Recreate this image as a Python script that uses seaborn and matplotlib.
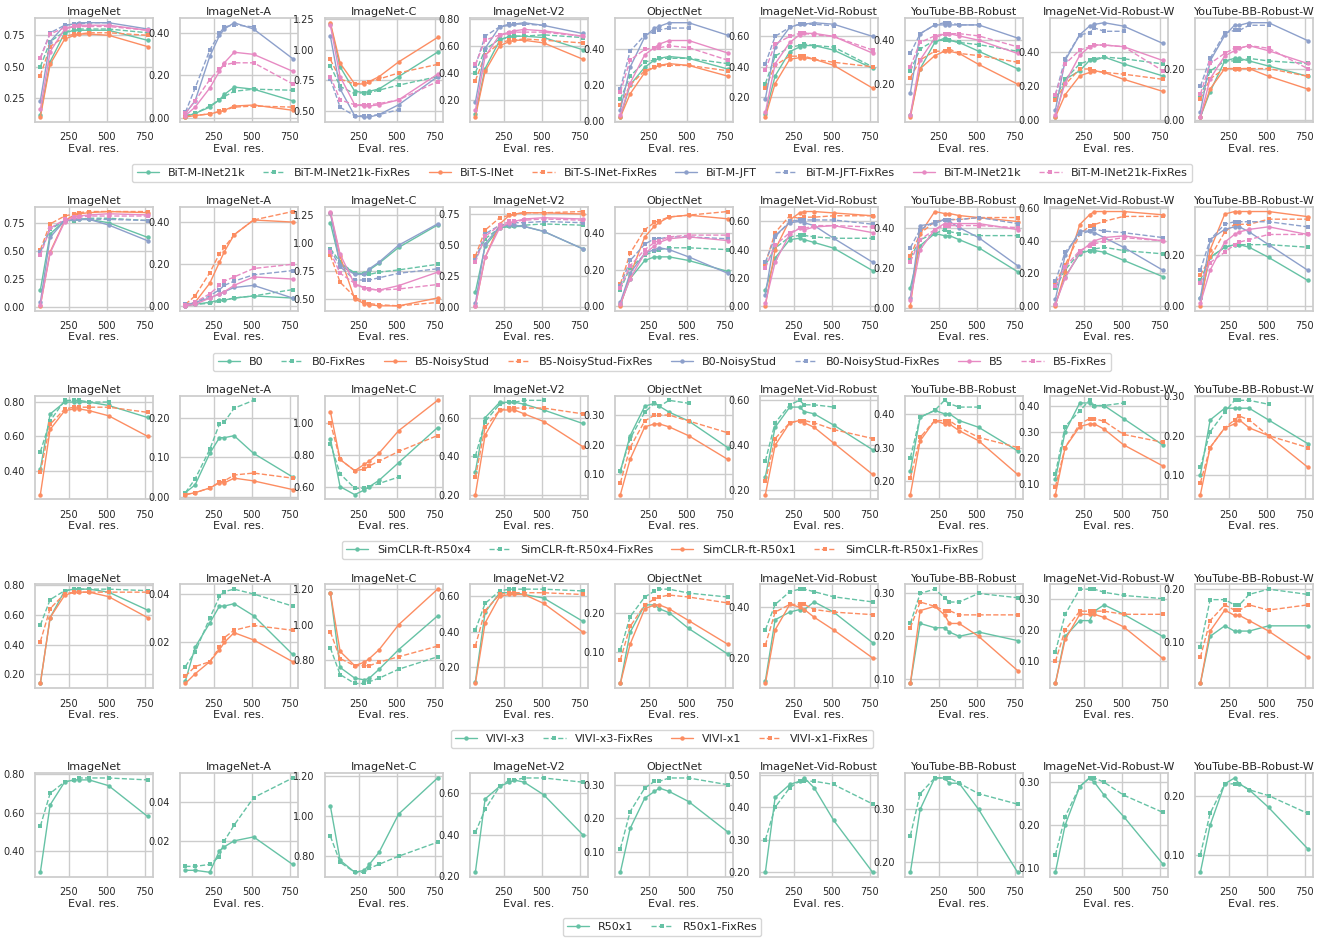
import matplotlib
matplotlib.use("Agg")
import matplotlib.pyplot as plt
from matplotlib.ticker import FormatStrFormatter, MaxNLocator
import seaborn as sns

# evaluation resolutions (x axis)
res = [64, 128, 224, 288, 320, 384, 512, 768]
datasets = ["ImageNet", "ImageNet-A", "ImageNet-C", "ImageNet-V2", "ObjectNet",
            "ImageNet-Vid-Robust", "YouTube-BB-Robust", "ImageNet-Vid-Robust-W",
            "YouTube-BB-Robust-W"]

# ---- row 1: BiT ----
bit_models = ["BiT-M-INet21k", "BiT-M-INet21k-FixRes", "BiT-S-INet", "BiT-S-INet-FixRes",
              "BiT-M-JFT", "BiT-M-JFT-FixRes", "BiT-M-INet21k", "BiT-M-INet21k-FixRes"]
bit_scores = {
    "ImageNet": [
        [0.12, 0.54, 0.77, 0.79, 0.79, 0.79, 0.79, 0.71],
        [0.50, 0.70, 0.78, 0.79, 0.80, 0.80, 0.80, 0.77],
        [0.10, 0.52, 0.72, 0.75, 0.76, 0.76, 0.75, 0.66],
        [0.43, 0.66, 0.74, 0.76, 0.76, 0.77, 0.77, 0.75],
        [0.23, 0.70, 0.83, 0.84, 0.85, 0.85, 0.85, 0.80],
        [0.57, 0.77, 0.83, 0.84, 0.84, 0.85, 0.85],
        [0.16, 0.62, 0.80, 0.82, 0.83, 0.83, 0.83, 0.79],
        [0.57, 0.76, 0.81, 0.82, 0.82, 0.82, 0.82, 0.79]],
    "ImageNet-A": [
        [0.005, 0.02, 0.05, 0.085, 0.11, 0.145, 0.135, 0.08],
        [0.01, 0.02, 0.055, 0.085, 0.10, 0.125, 0.135, 0.13],
        [0.003, 0.01, 0.018, 0.028, 0.035, 0.055, 0.06, 0.035],
        [0.005, 0.01, 0.018, 0.03, 0.035, 0.05, 0.055, 0.05],
        [0.02, 0.08, 0.29, 0.39, 0.42, 0.45, 0.42, 0.28],
        [0.025, 0.14, 0.32, 0.40, 0.43, 0.44, 0.43],
        [0.01, 0.05, 0.14, 0.22, 0.26, 0.31, 0.30, 0.22],
        [0.02, 0.08, 0.18, 0.23, 0.25, 0.26, 0.26, 0.16]],
    "ImageNet-C": [
        [1.21, 0.86, 0.66, 0.65, 0.66, 0.68, 0.78, 0.98],
        [0.87, 0.70, 0.64, 0.65, 0.65, 0.67, 0.71, 0.78],
        [1.22, 0.89, 0.72, 0.72, 0.74, 0.78, 0.90, 1.10],
        [0.92, 0.76, 0.72, 0.73, 0.74, 0.76, 0.81, 0.88],
        [1.11, 0.68, 0.46, 0.45, 0.45, 0.47, 0.55, 0.78],
        [0.76, 0.53, 0.46, 0.46, 0.46, 0.47, 0.51],
        [1.20, 0.78, 0.55, 0.54, 0.54, 0.55, 0.59, 0.80],
        [0.78, 0.59, 0.55, 0.55, 0.55, 0.56, 0.59, 0.74]],
    "ImageNet-V2": [
        [0.09, 0.43, 0.64, 0.67, 0.67, 0.67, 0.66, 0.57],
        [0.40, 0.57, 0.65, 0.66, 0.67, 0.67, 0.68, 0.66],
        [0.07, 0.41, 0.60, 0.63, 0.64, 0.64, 0.62, 0.50],
        [0.34, 0.53, 0.62, 0.64, 0.64, 0.65, 0.64, 0.62],
        [0.18, 0.58, 0.74, 0.75, 0.76, 0.77, 0.75, 0.69],
        [0.45, 0.67, 0.74, 0.76, 0.76, 0.76, 0.75],
        [0.12, 0.52, 0.68, 0.70, 0.71, 0.72, 0.71, 0.67],
        [0.46, 0.64, 0.68, 0.69, 0.70, 0.70, 0.70, 0.67]],
    "ObjectNet": [
        [0.02, 0.20, 0.30, 0.34, 0.35, 0.36, 0.35, 0.29],
        [0.12, 0.25, 0.33, 0.34, 0.35, 0.35, 0.35, 0.32],
        [0.02, 0.15, 0.27, 0.30, 0.31, 0.32, 0.31, 0.25],
        [0.09, 0.20, 0.28, 0.30, 0.31, 0.31, 0.31, 0.28],
        [0.06, 0.30, 0.47, 0.52, 0.53, 0.55, 0.55, 0.48],
        [0.18, 0.39, 0.48, 0.50, 0.51, 0.52, 0.52],
        [0.03, 0.21, 0.37, 0.41, 0.43, 0.45, 0.45, 0.38],
        [0.16, 0.34, 0.40, 0.41, 0.41, 0.42, 0.41, 0.34]],
    "ImageNet-Vid-Robust": [
        [0.09, 0.34, 0.50, 0.53, 0.54, 0.54, 0.51, 0.39],
        [0.29, 0.47, 0.53, 0.54, 0.55, 0.54, 0.53, 0.40],
        [0.07, 0.29, 0.45, 0.46, 0.46, 0.45, 0.41, 0.26],
        [0.26, 0.41, 0.47, 0.47, 0.47, 0.45, 0.43, 0.40],
        [0.19, 0.53, 0.66, 0.68, 0.68, 0.69, 0.68, 0.60],
        [0.42, 0.60, 0.66, 0.68, 0.68, 0.68, 0.67],
        [0.10, 0.42, 0.56, 0.61, 0.62, 0.62, 0.60, 0.49],
        [0.38, 0.55, 0.60, 0.62, 0.62, 0.61, 0.60, 0.51]],
    "YouTube-BB-Robust": [
        [0.06, 0.27, 0.39, 0.41, 0.40, 0.39, 0.35, 0.27],
        [0.26, 0.36, 0.40, 0.40, 0.40, 0.39, 0.38, 0.35],
        [0.05, 0.27, 0.33, 0.35, 0.35, 0.34, 0.29, 0.20],
        [0.23, 0.31, 0.35, 0.35, 0.36, 0.34, 0.33, 0.30],
        [0.16, 0.43, 0.47, 0.47, 0.47, 0.47, 0.47, 0.41],
        [0.34, 0.43, 0.47, 0.48, 0.48, 0.47, 0.47],
        [0.06, 0.31, 0.41, 0.43, 0.43, 0.42, 0.40, 0.34],
        [0.28, 0.39, 0.42, 0.43, 0.43, 0.43, 0.42, 0.37]],
    "ImageNet-Vid-Robust-W": [
        [0.02, 0.24, 0.29, 0.35, 0.35, 0.37, 0.33, 0.26],
        [0.13, 0.24, 0.33, 0.35, 0.36, 0.37, 0.36, 0.33],
        [0.02, 0.15, 0.26, 0.28, 0.29, 0.28, 0.24, 0.17],
        [0.12, 0.21, 0.30, 0.30, 0.29, 0.28, 0.27, 0.24],
        [0.06, 0.35, 0.50, 0.55, 0.56, 0.57, 0.55, 0.45],
        [0.15, 0.36, 0.50, 0.51, 0.54, 0.52, 0.52],
        [0.03, 0.22, 0.38, 0.43, 0.44, 0.44, 0.43, 0.35],
        [0.15, 0.33, 0.41, 0.43, 0.44, 0.44, 0.43, 0.29]],
    "YouTube-BB-Robust-W": [
        [0.01, 0.11, 0.23, 0.24, 0.24, 0.23, 0.21, 0.17],
        [0.09, 0.19, 0.23, 0.23, 0.23, 0.24, 0.23, 0.22],
        [0.01, 0.12, 0.20, 0.20, 0.20, 0.20, 0.17, 0.12],
        [0.08, 0.16, 0.20, 0.20, 0.20, 0.20, 0.20, 0.17],
        [0.03, 0.23, 0.33, 0.37, 0.37, 0.38, 0.38, 0.31],
        [0.13, 0.24, 0.34, 0.35, 0.35, 0.37, 0.37],
        [0.01, 0.16, 0.25, 0.27, 0.28, 0.29, 0.27, 0.22],
        [0.10, 0.22, 0.26, 0.28, 0.28, 0.29, 0.28, 0.20]],
}

# ---- row 2: EfficientNet ----
eff_models = ["B0", "B0-FixRes", "B5-NoisyStud", "B5-NoisyStud-FixRes",
              "B0-NoisyStud", "B0-NoisyStud-FixRes", "B5", "B5-FixRes"]
eff_scores = {
    "ImageNet": [
        [0.15, 0.65, 0.77, 0.78, 0.78, 0.78, 0.75, 0.62],
        [0.49, 0.69, 0.77, 0.77, 0.78, 0.79, 0.79, 0.77],
        [0.01, 0.49, 0.77, 0.82, 0.83, 0.84, 0.85, 0.84],
        [0.51, 0.74, 0.81, 0.83, 0.84, 0.85, 0.85, 0.85],
        [0.04, 0.62, 0.77, 0.78, 0.78, 0.78, 0.73, 0.59],
        [0.49, 0.70, 0.77, 0.78, 0.78, 0.78, 0.78, 0.77],
        [0.02, 0.48, 0.76, 0.80, 0.81, 0.82, 0.83, 0.82],
        [0.46, 0.70, 0.78, 0.80, 0.80, 0.81, 0.81, 0.81]],
    "ImageNet-A": [
        [0.003, 0.01, 0.02, 0.03, 0.03, 0.04, 0.05, 0.04],
        [0.005, 0.01, 0.015, 0.025, 0.03, 0.04, 0.05, 0.08],
        [0.003, 0.02, 0.11, 0.21, 0.26, 0.34, 0.41, 0.40],
        [0.01, 0.05, 0.16, 0.25, 0.28, 0.34, 0.41, 0.45],
        [0.003, 0.02, 0.04, 0.06, 0.07, 0.09, 0.10, 0.04],
        [0.01, 0.02, 0.05, 0.08, 0.10, 0.12, 0.15, 0.17],
        [0.003, 0.01, 0.04, 0.06, 0.07, 0.10, 0.14, 0.13],
        [0.005, 0.02, 0.06, 0.10, 0.12, 0.14, 0.18, 0.20]],
    "ImageNet-C": [
        [1.18, 0.82, 0.73, 0.73, 0.76, 0.82, 0.96, 1.16],
        [0.95, 0.83, 0.73, 0.72, 0.72, 0.74, 0.76, 0.81],
        [1.27, 0.88, 0.50, 0.46, 0.45, 0.44, 0.44, 0.51],
        [0.89, 0.65, 0.52, 0.47, 0.46, 0.45, 0.44, 0.47],
        [1.27, 0.80, 0.72, 0.72, 0.77, 0.83, 0.98, 1.17],
        [0.94, 0.79, 0.67, 0.67, 0.67, 0.69, 0.73, 0.77],
        [1.28, 0.90, 0.63, 0.60, 0.59, 0.58, 0.62, 0.74],
        [0.92, 0.73, 0.64, 0.60, 0.59, 0.58, 0.59, 0.63]],
    "ImageNet-V2": [
        [0.12, 0.49, 0.64, 0.65, 0.65, 0.65, 0.61, 0.47],
        [0.39, 0.55, 0.64, 0.65, 0.65, 0.66, 0.67, 0.66],
        [0.01, 0.40, 0.67, 0.74, 0.75, 0.76, 0.76, 0.75],
        [0.41, 0.62, 0.72, 0.74, 0.75, 0.76, 0.76, 0.77],
        [0.03, 0.51, 0.65, 0.66, 0.66, 0.65, 0.61, 0.47],
        [0.38, 0.59, 0.66, 0.67, 0.68, 0.68, 0.69, 0.68],
        [0.01, 0.40, 0.64, 0.68, 0.69, 0.71, 0.72, 0.71],
        [0.36, 0.57, 0.66, 0.69, 0.69, 0.70, 0.71, 0.70]],
    "ObjectNet": [
        [0.01, 0.15, 0.25, 0.27, 0.27, 0.27, 0.25, 0.19],
        [0.09, 0.21, 0.28, 0.30, 0.31, 0.32, 0.32, 0.31],
        [0.00, 0.17, 0.38, 0.44, 0.46, 0.49, 0.50, 0.48],
        [0.12, 0.29, 0.42, 0.46, 0.47, 0.49, 0.50, 0.52],
        [0.02, 0.18, 0.29, 0.31, 0.32, 0.31, 0.27, 0.18],
        [0.11, 0.25, 0.34, 0.37, 0.37, 0.38, 0.38, 0.37],
        [0.01, 0.15, 0.29, 0.33, 0.35, 0.37, 0.38, 0.36],
        [0.10, 0.22, 0.31, 0.35, 0.36, 0.38, 0.39, 0.39]],
    "ImageNet-Vid-Robust": [
        [0.11, 0.34, 0.47, 0.48, 0.47, 0.45, 0.41, 0.25],
        [0.29, 0.41, 0.49, 0.50, 0.50, 0.49, 0.48, 0.48],
        [0.00, 0.40, 0.61, 0.66, 0.67, 0.67, 0.66, 0.64],
        [0.30, 0.52, 0.64, 0.62, 0.63, 0.63, 0.64, 0.64],
        [0.08, 0.50, 0.59, 0.60, 0.59, 0.57, 0.48, 0.31],
        [0.31, 0.49, 0.60, 0.61, 0.61, 0.61, 0.61, 0.58],
        [0.02, 0.31, 0.51, 0.55, 0.54, 0.56, 0.57, 0.52],
        [0.27, 0.43, 0.52, 0.55, 0.55, 0.57, 0.57, 0.56]],
    "YouTube-BB-Robust": [
        [0.10, 0.31, 0.37, 0.36, 0.36, 0.34, 0.30, 0.18],
        [0.25, 0.34, 0.37, 0.39, 0.38, 0.37, 0.36, 0.36],
        [0.01, 0.37, 0.48, 0.47, 0.47, 0.46, 0.45, 0.43],
        [0.26, 0.37, 0.43, 0.44, 0.44, 0.44, 0.45, 0.45],
        [0.05, 0.41, 0.42, 0.44, 0.43, 0.40, 0.35, 0.21],
        [0.30, 0.39, 0.43, 0.44, 0.44, 0.44, 0.45, 0.42],
        [0.04, 0.29, 0.39, 0.42, 0.42, 0.42, 0.42, 0.39],
        [0.23, 0.34, 0.39, 0.41, 0.41, 0.41, 0.41, 0.40]],
    "ImageNet-Vid-Robust-W": [
        [0.01, 0.18, 0.32, 0.34, 0.34, 0.33, 0.28, 0.18],
        [0.11, 0.22, 0.33, 0.34, 0.35, 0.36, 0.34, 0.32],
        [0.00, 0.21, 0.50, 0.56, 0.58, 0.58, 0.58, 0.56],
        [0.14, 0.25, 0.44, 0.49, 0.50, 0.52, 0.55, 0.55],
        [0.04, 0.31, 0.46, 0.46, 0.45, 0.42, 0.36, 0.22],
        [0.15, 0.33, 0.44, 0.46, 0.47, 0.46, 0.45, 0.42],
        [0.01, 0.17, 0.33, 0.38, 0.40, 0.42, 0.43, 0.40],
        [0.12, 0.24, 0.34, 0.37, 0.38, 0.40, 0.42, 0.40]],
    "YouTube-BB-Robust-W": [
        [0.03, 0.19, 0.23, 0.24, 0.24, 0.23, 0.19, 0.10],
        [0.10, 0.19, 0.23, 0.24, 0.24, 0.24, 0.24, 0.23],
        [0.00, 0.22, 0.36, 0.37, 0.37, 0.37, 0.37, 0.35],
        [0.12, 0.19, 0.29, 0.32, 0.32, 0.32, 0.34, 0.34],
        [0.03, 0.26, 0.30, 0.31, 0.31, 0.29, 0.24, 0.14],
        [0.14, 0.26, 0.32, 0.33, 0.33, 0.33, 0.33, 0.31],
        [0.01, 0.14, 0.25, 0.28, 0.29, 0.30, 0.31, 0.28],
        [0.09, 0.17, 0.21, 0.24, 0.25, 0.26, 0.28, 0.28]],
}

# ---- row 3: SimCLR ----
simclr_models = ["SimCLR-ft-R50x4", "SimCLR-ft-R50x4-FixRes",
                 "SimCLR-ft-R50x1", "SimCLR-ft-R50x1-FixRes"]
simclr_scores = {
    "ImageNet": [
        [0.41, 0.73, 0.80, 0.80, 0.80, 0.80, 0.78, 0.71],
        [0.51, 0.69, 0.81, 0.81, 0.81, 0.80, 0.80],
        [0.26, 0.64, 0.75, 0.76, 0.76, 0.75, 0.72, 0.60],
        [0.39, 0.67, 0.76, 0.77, 0.77, 0.77, 0.77, 0.74]],
    "ImageNet-A": [
        [0.01, 0.03, 0.11, 0.15, 0.15, 0.155, 0.11, 0.05],
        [0.01, 0.045, 0.12, 0.185, 0.19, 0.225, 0.245],
        [0.005, 0.01, 0.022, 0.035, 0.035, 0.047, 0.04, 0.018],
        [0.005, 0.01, 0.022, 0.037, 0.04, 0.055, 0.06, 0.047]],
    "ImageNet-C": [
        [0.90, 0.60, 0.55, 0.58, 0.60, 0.64, 0.75, 0.97],
        [0.87, 0.68, 0.59, 0.59, 0.60, 0.62, 0.66],
        [1.07, 0.77, 0.70, 0.74, 0.76, 0.81, 0.95, 1.14],
        [1.00, 0.77, 0.70, 0.71, 0.73, 0.76, 0.82, 0.92]],
    "ImageNet-V2": [
        [0.32, 0.60, 0.68, 0.68, 0.68, 0.67, 0.64, 0.57],
        [0.40, 0.58, 0.67, 0.68, 0.68, 0.69, 0.69],
        [0.20, 0.51, 0.64, 0.64, 0.64, 0.62, 0.58, 0.45],
        [0.29, 0.55, 0.64, 0.65, 0.65, 0.65, 0.65, 0.62]],
    "ObjectNet": [
        [0.11, 0.23, 0.33, 0.34, 0.33, 0.31, 0.28, 0.19],
        [0.11, 0.22, 0.31, 0.34, 0.33, 0.35, 0.34],
        [0.03, 0.15, 0.26, 0.27, 0.27, 0.26, 0.23, 0.15],
        [0.07, 0.19, 0.28, 0.30, 0.30, 0.30, 0.28, 0.24]],
    "ImageNet-Vid-Robust": [
        [0.26, 0.48, 0.57, 0.57, 0.55, 0.54, 0.49, 0.38],
        [0.33, 0.50, 0.58, 0.60, 0.58, 0.58, 0.57],
        [0.18, 0.40, 0.50, 0.51, 0.50, 0.48, 0.41, 0.27],
        [0.24, 0.43, 0.50, 0.51, 0.51, 0.50, 0.47, 0.43]],
    "YouTube-BB-Robust": [
        [0.23, 0.39, 0.41, 0.40, 0.40, 0.38, 0.36, 0.29],
        [0.27, 0.39, 0.41, 0.44, 0.43, 0.42, 0.42],
        [0.16, 0.32, 0.38, 0.37, 0.37, 0.35, 0.32, 0.22],
        [0.21, 0.33, 0.38, 0.38, 0.38, 0.36, 0.33, 0.30]],
    "ImageNet-Vid-Robust-W": [
        [0.12, 0.30, 0.41, 0.41, 0.40, 0.40, 0.35, 0.25],
        [0.14, 0.32, 0.38, 0.42, 0.40, 0.40, 0.41],
        [0.06, 0.24, 0.32, 0.33, 0.33, 0.31, 0.25, 0.17],
        [0.09, 0.24, 0.33, 0.35, 0.35, 0.34, 0.29, 0.26]],
    "YouTube-BB-Robust-W": [
        [0.10, 0.24, 0.27, 0.27, 0.27, 0.27, 0.24, 0.18],
        [0.12, 0.21, 0.26, 0.29, 0.29, 0.29, 0.28],
        [0.05, 0.17, 0.22, 0.23, 0.24, 0.22, 0.20, 0.12],
        [0.08, 0.17, 0.22, 0.24, 0.25, 0.24, 0.20, 0.17]],
}

# ---- row 4: VIVI ----
vivi_models = ["VIVI-x3", "VIVI-x3-FixRes", "VIVI-x1", "VIVI-x1-FixRes"]
vivi_scores = {
    "ImageNet": [
        [0.14, 0.58, 0.76, 0.77, 0.77, 0.77, 0.75, 0.63],
        [0.53, 0.70, 0.76, 0.77, 0.77, 0.77, 0.77, 0.76],
        [0.14, 0.58, 0.73, 0.75, 0.75, 0.75, 0.72, 0.58],
        [0.42, 0.64, 0.74, 0.75, 0.75, 0.75, 0.75, 0.75]],
    "ImageNet-A": [
        [0.004, 0.018, 0.028, 0.035, 0.035, 0.036, 0.031, 0.015],
        [0.010, 0.016, 0.030, 0.039, 0.041, 0.042, 0.040, 0.035],
        [0.003, 0.007, 0.012, 0.017, 0.020, 0.024, 0.021, 0.012],
        [0.006, 0.010, 0.012, 0.018, 0.022, 0.025, 0.027, 0.025]],
    "ImageNet-C": [
        [1.18, 0.76, 0.70, 0.69, 0.70, 0.75, 0.86, 1.05],
        [0.87, 0.72, 0.67, 0.67, 0.68, 0.70, 0.75, 0.82],
        [1.18, 0.85, 0.77, 0.79, 0.81, 0.86, 1.00, 1.20],
        [0.96, 0.81, 0.77, 0.77, 0.77, 0.79, 0.82, 0.88]],
    "ImageNet-V2": [
        [0.12, 0.51, 0.62, 0.62, 0.62, 0.61, 0.59, 0.46],
        [0.41, 0.56, 0.63, 0.64, 0.64, 0.64, 0.64, 0.63],
        [0.11, 0.45, 0.60, 0.61, 0.61, 0.61, 0.56, 0.40],
        [0.32, 0.52, 0.61, 0.62, 0.62, 0.62, 0.62, 0.61]],
    "ObjectNet": [
        [0.02, 0.15, 0.22, 0.22, 0.21, 0.20, 0.16, 0.095],
        [0.105, 0.19, 0.24, 0.255, 0.26, 0.26, 0.25, 0.24],
        [0.02, 0.12, 0.21, 0.22, 0.22, 0.21, 0.18, 0.12],
        [0.08, 0.165, 0.22, 0.235, 0.24, 0.245, 0.24, 0.225]],
    "ImageNet-Vid-Robust": [
        [0.11, 0.35, 0.38, 0.39, 0.39, 0.42, 0.38, 0.26],
        [0.31, 0.41, 0.46, 0.47, 0.47, 0.46, 0.44, 0.42],
        [0.10, 0.31, 0.41, 0.40, 0.39, 0.36, 0.31, 0.20],
        [0.25, 0.38, 0.41, 0.41, 0.41, 0.39, 0.38, 0.37]],
    "YouTube-BB-Robust": [
        [0.09, 0.23, 0.22, 0.22, 0.21, 0.20, 0.21, 0.19],
        [0.23, 0.30, 0.31, 0.29, 0.28, 0.28, 0.30, 0.29],
        [0.09, 0.26, 0.27, 0.25, 0.23, 0.23, 0.20, 0.12],
        [0.22, 0.28, 0.27, 0.26, 0.26, 0.25, 0.25, 0.25]],
    "ImageNet-Vid-Robust-W": [
        [0.03, 0.18, 0.23, 0.23, 0.26, 0.28, 0.25, 0.18],
        [0.13, 0.25, 0.33, 0.33, 0.33, 0.32, 0.31, 0.30],
        [0.03, 0.17, 0.25, 0.25, 0.25, 0.24, 0.21, 0.11],
        [0.10, 0.20, 0.26, 0.26, 0.26, 0.26, 0.25, 0.25]],
    "YouTube-BB-Robust-W": [
        [0.02, 0.11, 0.13, 0.12, 0.12, 0.12, 0.13, 0.13],
        [0.09, 0.18, 0.18, 0.17, 0.17, 0.19, 0.20, 0.19],
        [0.02, 0.12, 0.16, 0.15, 0.15, 0.14, 0.12, 0.07],
        [0.07, 0.14, 0.17, 0.16, 0.16, 0.17, 0.16, 0.17]],
}

# ---- row 5: R50x1 ----
r50_models = ["R50x1", "R50x1-FixRes"]
r50_scores = {
    "ImageNet": [[0.29, 0.64, 0.76, 0.77, 0.77, 0.77, 0.74, 0.58],
                 [0.53, 0.70, 0.76, 0.77, 0.78, 0.78, 0.78, 0.77]],
    "ImageNet-A": [[0.005, 0.005, 0.004, 0.015, 0.017, 0.020, 0.022, 0.008],
                   [0.007, 0.007, 0.008, 0.012, 0.020, 0.028, 0.042, 0.052]],
    "ImageNet-C": [[1.05, 0.78, 0.72, 0.73, 0.76, 0.82, 1.01, 1.19],
                   [0.90, 0.77, 0.72, 0.72, 0.74, 0.76, 0.80, 0.87]],
    "ImageNet-V2": [[0.22, 0.57, 0.63, 0.65, 0.66, 0.65, 0.59, 0.40],
                    [0.41, 0.52, 0.63, 0.66, 0.66, 0.67, 0.67, 0.65]],
    "ObjectNet": [[0.04, 0.17, 0.26, 0.28, 0.29, 0.28, 0.25, 0.16],
                  [0.11, 0.22, 0.29, 0.31, 0.31, 0.32, 0.32, 0.30]],
    "ImageNet-Vid-Robust": [[0.20, 0.43, 0.47, 0.48, 0.49, 0.46, 0.36, 0.20],
                            [0.30, 0.40, 0.46, 0.48, 0.48, 0.48, 0.47, 0.41]],
    "YouTube-BB-Robust": [[0.18, 0.30, 0.36, 0.36, 0.35, 0.35, 0.30, 0.18],
                          [0.25, 0.33, 0.36, 0.36, 0.36, 0.35, 0.33, 0.31]],
    "ImageNet-Vid-Robust-W": [[0.09, 0.20, 0.29, 0.31, 0.30, 0.27, 0.22, 0.11],
                              [0.13, 0.22, 0.29, 0.31, 0.31, 0.30, 0.27, 0.23]],
    "YouTube-BB-Robust-W": [[0.07, 0.15, 0.22, 0.23, 0.22, 0.21, 0.18, 0.11],
                            [0.10, 0.17, 0.22, 0.22, 0.22, 0.21, 0.20, 0.17]],
}

rows = [(bit_models, bit_scores), (eff_models, eff_scores), (simclr_models, simclr_scores),
        (vivi_models, vivi_scores), (r50_models, r50_scores)]

sns.set_theme(style="whitegrid")
plt.rcParams.update({
    "font.family": ["DejaVu Sans"],
    "axes.titlesize": 8,
    "axes.labelsize": 8,
    "xtick.labelsize": 7,
    "ytick.labelsize": 7,
    "legend.fontsize": 8,
    "axes.titlepad": 2,
    "xtick.major.pad": 1.5,
    "ytick.major.pad": 1.5,
    "axes.labelpad": 1,
})
colors = sns.color_palette("Set2", 4)

fig, axes = plt.subplots(5, 9, figsize=(13.24, 9.4), dpi=100)
fig.subplots_adjust(left=35 / 1324, right=1313 / 1324, top=1 - 18 / 940,
                    bottom=1 - 877 / 940, wspace=0.229, hspace=0.82)

legend_y = [173, 362, 550, 739, 927]
for r, (models, scores) in enumerate(rows):
    for c, name in enumerate(datasets):
        ax = axes[r, c]
        for i, model in enumerate(models):
            vals = scores[name][i]
            dashed = i % 2 == 1
            sns.lineplot(x=res[:len(vals)], y=vals, ax=ax, color=colors[i // 2],
                         linestyle="--" if dashed else "-",
                         marker="s" if dashed else "o", markersize=3.2,
                         markeredgewidth=0, linewidth=1.0, label=model)
        ax.get_legend().remove()
        ax.set_title(name)
        ax.set_xlabel("Eval. res.")
        ax.set_ylabel("")
        ax.set_xticks([250, 500, 750])
        ax.yaxis.set_major_locator(MaxNLocator(nbins=4, steps=[1, 2, 2.5, 10]))
        ax.yaxis.set_major_formatter(FormatStrFormatter("%.2f"))
    handles, labels = axes[r, 0].get_legend_handles_labels()
    fig.legend(handles, labels, loc="center", ncol=len(models),
               bbox_to_anchor=(0.5, 1 - legend_y[r] / 940), frameon=True,
               handlelength=2.0, columnspacing=1.6)

fig.savefig("out.png", dpi=100)
